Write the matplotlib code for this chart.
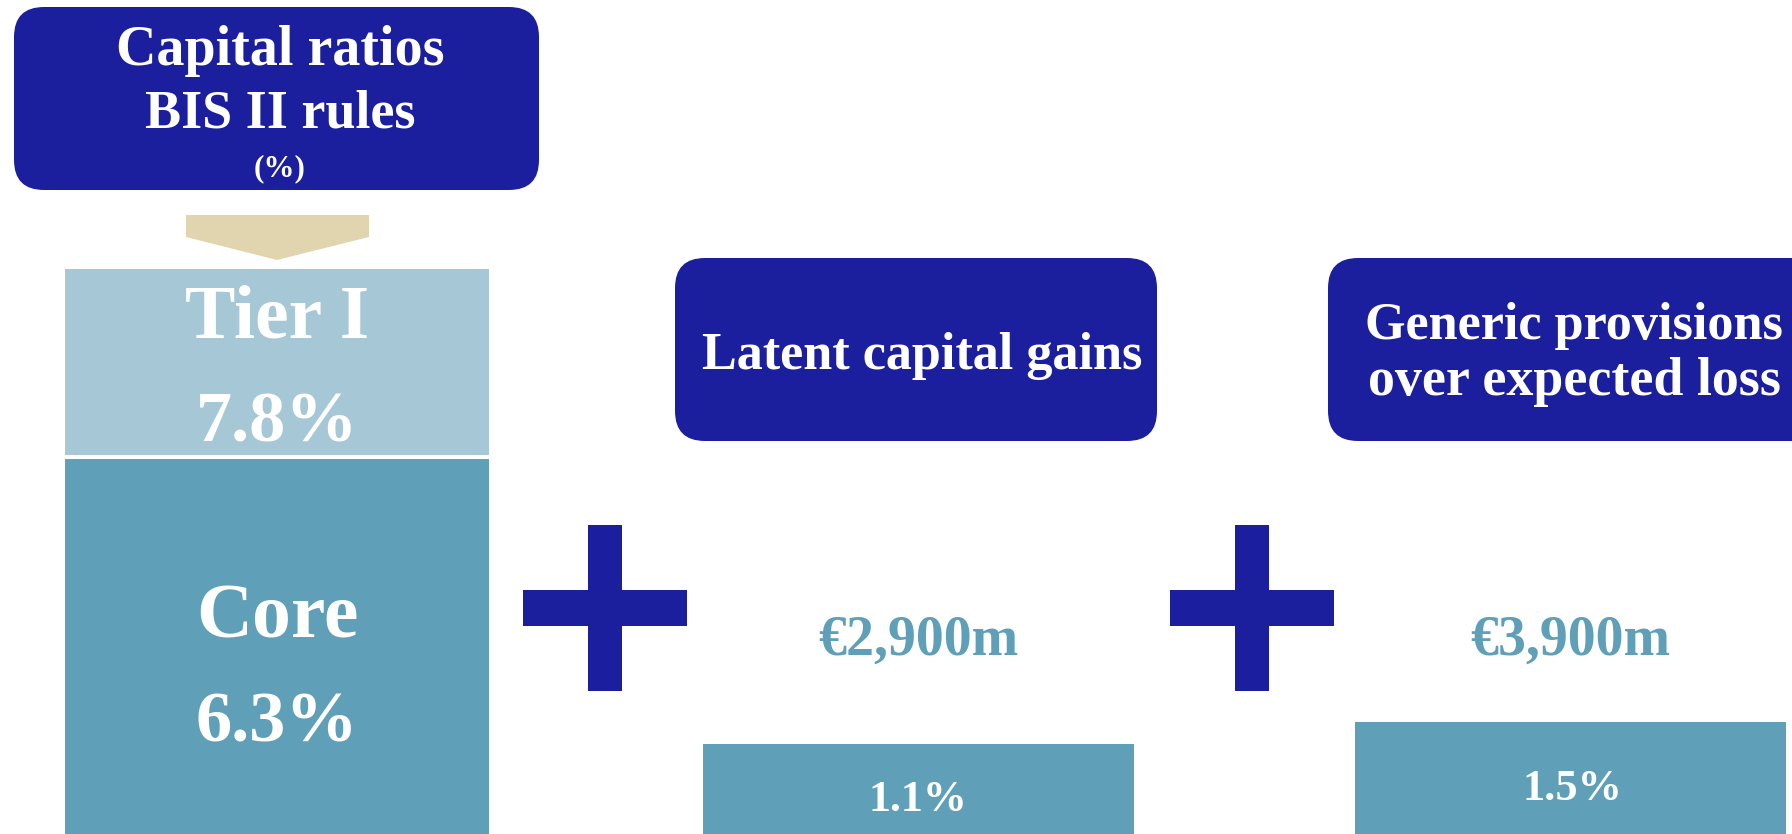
import matplotlib
matplotlib.use('Agg')
import matplotlib.pyplot as plt
from matplotlib.patches import FancyBboxPatch, Polygon, Rectangle

# Data
ratio_labels = ['Core', 'Tier I']
ratio_values = [6.3, 7.8]          # cumulative: core, then total tier I
extra_titles = ['Latent capital gains', 'Generic provisions\nover expected loss']
extra_values = [1.1, 1.5]
extra_amounts = ['€2,900m', '€3,900m']

W, H = 1792, 834
navy = '#1b1f9d'
light = '#a5c7d6'
teal = '#5f9fb8'
tan = '#e1d5b0'
FONT = 'Liberation Serif'

fig = plt.figure(figsize=(W / 100, H / 100), dpi=100)

# pixel canvas for the decorations (boxes, arrow, plus signs)
bg = fig.add_axes([0, 0, 1, 1])
bg.set_xlim(0, W)
bg.set_ylim(H, 0)
bg.axis('off')


def px_axes(x0, y0, x1, y1):
    ax = fig.add_axes([x0 / W, 1 - y1 / H, (x1 - x0) / W, (y1 - y0) / H])
    ax.axis('off')
    return ax


def box(x0, y0, x1, y1):
    bg.add_patch(FancyBboxPatch((x0, y0), x1 - x0, y1 - y0,
                                boxstyle='round,pad=0,rounding_size=30',
                                fc=navy, ec='none'))


def plus(cx, cy):
    bg.add_patch(Rectangle((cx - 82, cy - 18), 164, 36, fc=navy, ec='none'))
    bg.add_patch(Rectangle((cx - 17, cy - 83), 34, 166, fc=navy, ec='none'))


box(14, 7, 539, 190)
box(675, 258, 1157, 441)
box(1328, 258, 1830, 441)
bg.add_patch(Polygon([(186, 215), (369, 215), (369, 237), (277, 260), (186, 237)],
                     closed=True, fc=tan, ec='none'))
plus(605, 608)
plus(1252, 608)

# left stacked bar: core + tier I (white edges give the thin gap between them)
axl = px_axes(63, 267, 491, 834)
scale_l = (457 - 267) / (ratio_values[1] - ratio_values[0])
axl.bar(0, ratio_values[0], width=1, color=teal, edgecolor='white', linewidth=2.9)
axl.bar(0, ratio_values[1] - ratio_values[0], bottom=ratio_values[0], width=1,
        color=light, edgecolor='white', linewidth=2.9)
axl.set_xlim(-0.5, 0.5)
axl.set_ylim(ratio_values[1] - (834 - 267) / scale_l, ratio_values[1])

# right bars: additional capital (cropped at the bottom)
axr = px_axes(703, 600, 1786, 834)
scale_r = (744 - 722) / (extra_values[1] - extra_values[0])
base = extra_values[0] - (834 - 744) / scale_r
bw = 431 / 652
axr.bar([0, 1], [v - base for v in extra_values], bottom=base, width=bw, color=teal)
axr.set_xlim(-bw / 2, 1 + bw / 2)
axr.set_ylim(base, base + (834 - 600) / scale_r)

texts = []


def label(s, cx, baseline, width, color='white'):
    t = fig.text(cx / W, 1 - baseline / H, s, ha='center', va='baseline',
                 fontsize=40, color=color, family=FONT, fontweight='bold', zorder=10)
    texts.append((t, width))


label('Capital ratios', 280, 65, 328)
label('BIS II rules', 280, 128, 270)
label('(%)', 280, 176, 52)

label(ratio_labels[1], 277, 338, 184)
label(f'{ratio_values[1]:.1f}%', 277, 441, 163)
label(ratio_labels[0], 277, 637, 162)
label(f'{ratio_values[0]:.1f}%', 277, 741, 163)

label(extra_titles[0], 922, 369, 441)
l1, l2 = extra_titles[1].split('\n')
label(l1, 1574, 339, 418)
label(l2, 1574, 395, 412)

label(extra_amounts[0], 918, 655, 200, color=teal)
label(extra_amounts[1], 1570, 655, 200, color=teal)
label(f'{extra_values[0]:.1f}%', 918, 811, 99)
label(f'{extra_values[1]:.1f}%', 1572, 800, 100)

# size each label so its width matches the slide
renderer = fig.canvas.get_renderer()
for t, width in texts:
    w = t.get_window_extent(renderer).width
    t.set_fontsize(40 * width / w)

fig.savefig('out.png', dpi=100)
